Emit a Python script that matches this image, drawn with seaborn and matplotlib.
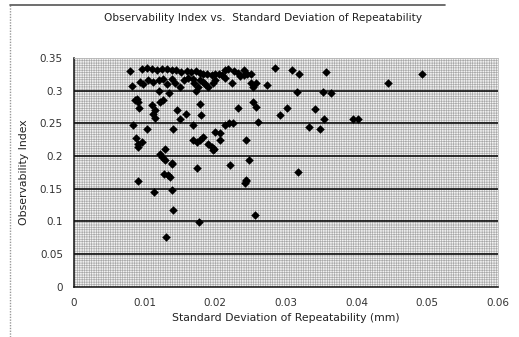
import matplotlib
matplotlib.use("Agg")
import matplotlib.pyplot as plt
import seaborn as sns
import pandas as pd
from matplotlib.patches import Rectangle
from matplotlib.lines import Line2D

# Standard deviation of repeatability (mm)
std_dev = [
    0.0079, 0.0096, 0.0103, 0.0110, 0.0117, 0.0124, 0.0131, 0.0138, 0.0145, 0.0152,
    0.0160, 0.0166, 0.0172, 0.0178, 0.0183, 0.0188, 0.0195, 0.0200, 0.0205, 0.0210,
    0.0214, 0.0218, 0.0226, 0.0232, 0.0240, 0.0235, 0.0240, 0.0245, 0.0250, 0.0284,
    0.0308, 0.0319, 0.0356, 0.0492,
    0.0082, 0.0093, 0.0098, 0.0105, 0.0112, 0.0120, 0.0126, 0.0132, 0.0138, 0.0143,
    0.0150, 0.0155, 0.0162, 0.0168, 0.0170, 0.0175, 0.0178, 0.0182, 0.0185, 0.0190,
    0.0196, 0.0200, 0.0214, 0.0223, 0.0251, 0.0253, 0.0258, 0.0273, 0.0315, 0.0353,
    0.0363, 0.0444, 0.0120, 0.0135, 0.0172,
    0.0086, 0.0089, 0.0091, 0.0092, 0.0110, 0.0122, 0.0126, 0.0115, 0.0112, 0.0115,
    0.0146, 0.0150, 0.0159, 0.0178, 0.0180, 0.0232, 0.0254, 0.0258, 0.0301, 0.0341,
    0.0291, 0.0354, 0.0395, 0.0402,
    0.0084, 0.0169, 0.0214, 0.0220, 0.0225, 0.0260, 0.0333, 0.0348,
    0.0103, 0.0140, 0.0088, 0.0091, 0.0090, 0.0096, 0.0129, 0.0124, 0.0169, 0.0174,
    0.0178, 0.0183, 0.0190, 0.0195, 0.0198, 0.0200, 0.0207, 0.0207, 0.0244, 0.0197,
    0.0121, 0.0129, 0.0138, 0.0139, 0.0127, 0.0133, 0.0136, 0.0091, 0.0113, 0.0138,
    0.0140, 0.0130, 0.0177, 0.0174, 0.0221, 0.0248, 0.0243, 0.0242, 0.0244, 0.0256,
    0.0317,
]

# Observability index
obs_index = [
    0.330, 0.333, 0.334, 0.333, 0.332, 0.333, 0.333, 0.332, 0.331, 0.329,
    0.330, 0.328, 0.330, 0.327, 0.326, 0.325, 0.324, 0.325, 0.325, 0.324,
    0.332, 0.333, 0.330, 0.327, 0.332, 0.323, 0.324, 0.325, 0.326, 0.334,
    0.332, 0.326, 0.329, 0.326,
    0.307, 0.314, 0.310, 0.316, 0.313, 0.316, 0.318, 0.310, 0.318, 0.312,
    0.305, 0.316, 0.320, 0.318, 0.312, 0.306, 0.317, 0.314, 0.310, 0.306,
    0.312, 0.316, 0.319, 0.311, 0.311, 0.306, 0.312, 0.308, 0.298, 0.298,
    0.296, 0.311, 0.300, 0.296, 0.299,
    0.285, 0.288, 0.283, 0.273, 0.278, 0.282, 0.286, 0.270, 0.264, 0.258,
    0.271, 0.256, 0.264, 0.279, 0.263, 0.273, 0.283, 0.275, 0.274, 0.272,
    0.263, 0.257, 0.256, 0.257,
    0.248, 0.248, 0.247, 0.250, 0.250, 0.252, 0.245, 0.242,
    0.241, 0.241, 0.227, 0.219, 0.214, 0.222, 0.210, 0.199, 0.224, 0.222,
    0.224, 0.229, 0.219, 0.214, 0.211, 0.236, 0.235, 0.224, 0.225, 0.209,
    0.203, 0.194, 0.190, 0.188, 0.173, 0.171, 0.168, 0.161, 0.145, 0.148,
    0.117, 0.0755, 0.0994, 0.181, 0.186, 0.194, 0.162, 0.158, 0.164, 0.110,
    0.176,
]

x_ticks = [0, 0.01, 0.02, 0.03, 0.04, 0.05, 0.06]
x_tick_labels = ["0", "0.01", "0.02", "0.03", "0.04", "0.05", "0.06"]
y_ticks = [0, 0.05, 0.1, 0.15, 0.2, 0.25, 0.3, 0.35]
y_tick_labels = ["0", "0.05", "0.1", "0.15", "0.2", "0.25", "0.3", "0.35"]

title = "Observability Index vs.  Standard Deviation of Repeatability"
x_label = "Standard Deviation of Repeatability (mm)"
y_label = "Observability Index"

df = pd.DataFrame({"std": std_dev, "obs": obs_index})

sns.set_theme(style="white")
plt.rcParams["font.family"] = ["DejaVu Sans"]
plt.rcParams["hatch.color"] = "#a8a8a8"
plt.rcParams["hatch.linewidth"] = 0.45

W, H = 519, 337
fig = plt.figure(figsize=(W / 100, H / 100), dpi=100)
fig.patch.set_facecolor("white")
ax = fig.add_axes([74 / W, 1 - 286.7 / H, (498 - 74) / W, (286.7 - 58) / H])
ax.set_facecolor("#f2f2f2")

# stippled background
ax.add_patch(Rectangle((0, 0), 1, 1, transform=ax.transAxes, facecolor="none",
                       edgecolor="#a8a8a8", hatch="+++++++", linewidth=0, zorder=0))

for yv in y_ticks[1:-1]:
    ax.axhline(yv, color="black", linewidth=1.1, zorder=1)

sns.scatterplot(data=df, x="std", y="obs", ax=ax, marker="D", color="black",
                s=19, edgecolor="black", linewidth=0, zorder=3, legend=False)

ax.set_xlim(0, 0.06)
ax.set_ylim(0, 0.35)
ax.set_xticks(x_ticks)
ax.set_xticklabels(x_tick_labels)
ax.set_yticks(y_ticks)
ax.set_yticklabels(y_tick_labels)
ax.tick_params(axis="x", direction="in", length=3, width=0.8, colors="#222222",
               labelsize=7.5, pad=8, labelcolor="#333333")
ax.tick_params(axis="y", length=0, labelsize=7.5, pad=8, labelcolor="#333333")
ax.set_xlabel(x_label, fontsize=7.8, color="#222222", labelpad=4)
ax.set_ylabel(y_label, fontsize=7.8, color="#222222", labelpad=8)

for side in ["left", "bottom"]:
    ax.spines[side].set_visible(True)
    ax.spines[side].set_color("#111111")
    ax.spines[side].set_linewidth(1.1)
for side in ["top", "right"]:
    ax.spines[side].set_visible(True)
    ax.spines[side].set_color("#bbbbbb")
    ax.spines[side].set_linewidth(0.6)

fig.text(263 / W, 1 - 18 / H, title, ha="center", va="center", fontsize=7.6,
         color="#222222")

# outer chart frame fragments
fig.add_artist(Line2D([10 / W, 10 / W], [0, 1 - 5 / H], transform=fig.transFigure,
                      color="#999999", linewidth=1.0, linestyle=(0, (1, 1))))
fig.add_artist(Line2D([10 / W, 445 / W], [1 - 5 / H, 1 - 5 / H], transform=fig.transFigure,
                      color="#555555", linewidth=1.2))

fig.savefig("out.png", dpi=100)
